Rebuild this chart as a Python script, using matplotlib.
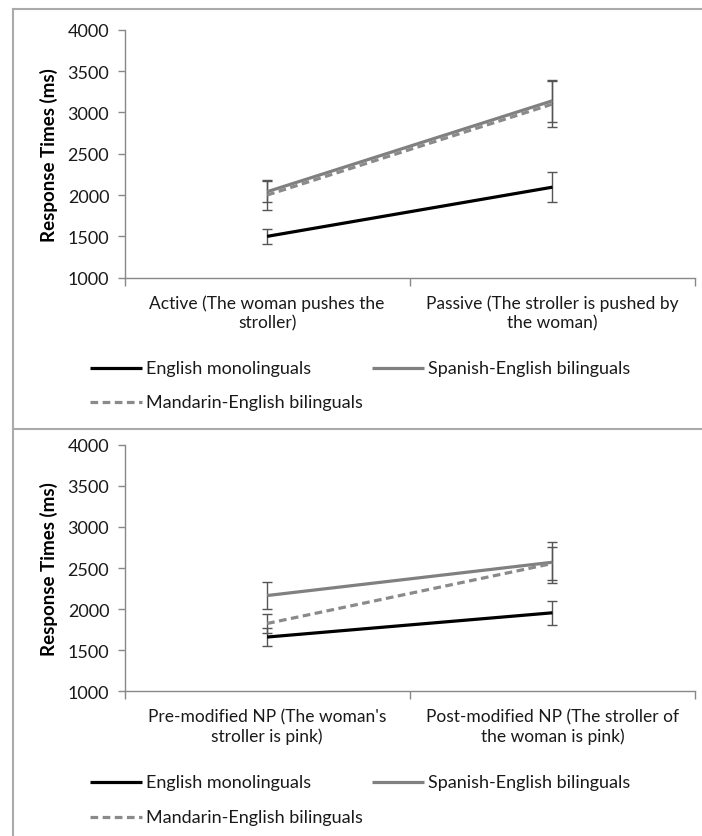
import matplotlib
matplotlib.use("Agg")
import matplotlib.pyplot as plt
from matplotlib.lines import Line2D

# ---- data ----
series_names = ["English monolinguals", "Spanish-English bilinguals", "Mandarin-English bilinguals"]

top_categories = ["Active (The woman pushes the\nstroller)", "Passive (The stroller is pushed by\nthe woman)"]
top_english = [1500, 2095]
top_english_err = [95, 185]
top_spanish = [2040, 3140]
top_spanish_err = [130, 255]
top_mandarin = [2000, 3100]
top_mandarin_err = [185, 280]

bot_categories = ["Pre-modified NP (The woman's\nstroller is pink)", "Post-modified NP (The stroller of\nthe woman is pink)"]
bot_english = [1660, 1955]
bot_english_err = [105, 145]
bot_spanish = [2165, 2570]
bot_spanish_err = [162, 250]
bot_mandarin = [1825, 2555]
bot_mandarin_err = [110, 195]

y_ticks = [1000, 1500, 2000, 2500, 3000, 3500, 4000]

plt.rcParams['font.family'] = ['Lato', 'DejaVu Sans']

W, H = 702, 837
fig = plt.figure(figsize=(W / 100, H / 100), dpi=100)

def fx(px):
    return px / W

def fy(py):
    return 1 - py / H

# panel borders
border_col = "#aaaaaa"
fig.add_artist(Line2D([fx(13), fx(13)], [fy(10), fy(837)], color=border_col, lw=1.5, transform=fig.transFigure))
fig.add_artist(Line2D([fx(13), fx(702)], [fy(10), fy(10)], color=border_col, lw=1.5, transform=fig.transFigure))
fig.add_artist(Line2D([fx(13), fx(702)], [fy(430), fy(430)], color=border_col, lw=1.5, transform=fig.transFigure))

spine_col = "#888888"
err_col = "#555555"
text_col = "#1a1a1a"

def draw_panel(top_px, bot_px, cats, eng, eng_e, spa, spa_e, man, man_e, leg_y1, leg_y2):
    left_px, right_px = 124.5, 695
    ax = fig.add_axes([fx(left_px), fy(bot_px), fx(right_px) - fx(left_px), fy(top_px) - fy(bot_px)])
    x = [1, 2]
    for vals, errs in [(spa, spa_e), (man, man_e), (eng, eng_e)]:
        ax.errorbar(x, vals, yerr=errs, color=err_col, lw=0, elinewidth=1.0,
                    capsize=3.5, capthick=1.0, zorder=2)
    ax.plot(x, eng, color="black", lw=2.3, solid_capstyle="butt", zorder=4)
    ax.plot(x, spa, color="#808080", lw=2.3, solid_capstyle="butt", zorder=3)
    ax.plot(x, man, color="#8a8a8a", lw=2.3, dashes=(2.4, 1.4), zorder=3)
    ax.set_xlim(0.5, 2.5)
    ax.set_ylim(1000, 4000)
    ax.set_yticks(y_ticks)
    ax.set_yticklabels([str(v) for v in y_ticks], fontsize=13, color=text_col)
    ax.set_xticks([0.5, 1.5, 2.5])
    ax.set_xticklabels([])
    ax.set_xticks(x, minor=True)
    ax.set_xticklabels(cats, minor=True, fontsize=12.5, color=text_col, linespacing=1.25)
    ax.tick_params(axis="x", which="minor", length=0, pad=12)
    ax.tick_params(axis="x", which="major", length=6, color=spine_col, width=1)
    ax.tick_params(axis="y", length=5, color=spine_col, width=1, pad=6)
    for s in ["top", "right"]:
        ax.spines[s].set_visible(False)
    for s in ["left", "bottom"]:
        ax.spines[s].set_color(spine_col)
        ax.spines[s].set_linewidth(1.0)
    ax.set_ylabel("Response Times (ms)", fontsize=13.5, fontweight="bold", labelpad=7)

    def leg_item(x0, ypx, line_kwargs, label):
        fig.add_artist(Line2D([fx(x0), fx(x0 + 52)], [fy(ypx), fy(ypx)], transform=fig.transFigure, **line_kwargs))
        fig.text(fx(x0 + 56), fy(ypx), label, fontsize=13, va="center", ha="left", color=text_col)
    leg_item(90, leg_y1, dict(color="black", lw=2.3, solid_capstyle="butt"), series_names[0])
    leg_item(372, leg_y1, dict(color="#808080", lw=2.3, solid_capstyle="butt"), series_names[1])
    leg_item(90, leg_y2, dict(color="#8a8a8a", lw=2.3, dashes=(2.4, 1.4)), series_names[2])
    return ax

ax1 = draw_panel(30.7, 278.7, top_categories, top_english, top_english_err,
                 top_spanish, top_spanish_err, top_mandarin, top_mandarin_err, 369, 403)
ax2 = draw_panel(445.7, 692.3, bot_categories, bot_english, bot_english_err,
                 bot_spanish, bot_spanish_err, bot_mandarin, bot_mandarin_err, 783, 818)

fig.savefig("out.png", dpi=100)
